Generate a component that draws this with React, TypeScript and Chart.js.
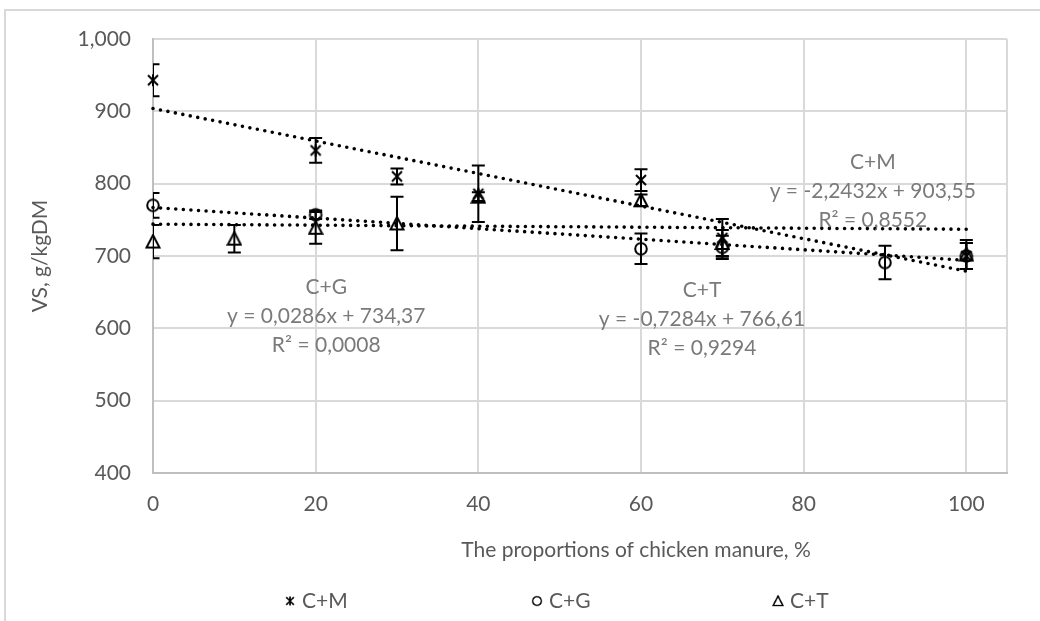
import React, { useEffect, useRef } from 'react';
import { Chart, registerables } from 'chart.js';

Chart.register(...registerables);

// ---- data ----
const seriesNames = ['C+M', 'C+G', 'C+T'];

const xCM = [0, 20, 30, 40, 60, 70, 100];
const yCM = [943, 846, 810, 786, 805, 725, 700];
const eCM = [22, 17, 11, 39, 15, 26, 18];

const xCG = [0, 20, 60, 70, 90, 100];
const yCG = [770, 757, 710, 712, 691, 700];
const eCG = [17, 6, 21, 16, 23, 18];

const xCT = [0, 10, 20, 30, 40, 60, 70, 100];
const yCT = [720, 724, 739, 745, 782, 777, 718, 702];
const eCT = [23, 19, 22, 37, 6, 8, 18, 20];

const trendX = [0, 100];
const trendCM = [904, 679];
const trendCG = [767, 694];
const trendCT = [744, 737];

const xTickValues = [0, 20, 40, 60, 80, 100];
const labelCM = ['C+M', 'y = -2,2432x + 903,55', 'R² = 0,8552'];
const labelCG = ['C+G', 'y = 0,0286x + 734,37', 'R² = 0,0008'];
const labelCT = ['C+T', 'y = -0,7284x + 766,61', 'R² = 0,9294'];

const xTitle = 'The proportions of chicken manure, %';
const yTitle = 'VS, g/kgDM';

// ---- styling / layout ----
const FONT = 'Lato, "Open Sans", sans-serif';
const TEXT = '#595959';
const LABEL = '#7a7a7a';
const GRID = '#d9d9d9';
const AXIS = '#bfbfbf';

function makeMarker(kind: string): HTMLCanvasElement {
  const c = document.createElement('canvas');
  c.width = 16;
  c.height = 16;
  const g = c.getContext('2d')!;
  g.strokeStyle = '#000';
  g.lineWidth = 2;
  g.lineCap = 'butt';
  g.beginPath();
  if (kind === 'star') {
    g.moveTo(3, 3); g.lineTo(13, 13);
    g.moveTo(13, 3); g.lineTo(3, 13);
    g.moveTo(8, 2); g.lineTo(8, 14);
  } else if (kind === 'circle') {
    g.arc(8, 8, 5.8, 0, Math.PI * 2);
  } else {
    g.moveTo(8, 1.5); g.lineTo(14.5, 14); g.lineTo(1.5, 14); g.closePath();
  }
  g.stroke();
  return c;
}

function pts(xs: number[], ys: number[]) {
  return xs.map((x, i) => ({ x, y: ys[i] }));
}

export default function App() {
  const ref = useRef<HTMLCanvasElement | null>(null);

  useEffect(() => {
    document.body.style.margin = '0';
    const canvas = ref.current!;
    const mStar = makeMarker('star');
    const mCircle = makeMarker('circle');
    const mTri = makeMarker('tri');
    const markers = [mStar, mCircle, mTri];

    const errorBars = {
      id: 'errorBars',
      afterDatasetsDraw(chart: any) {
        const { ctx, chartArea, scales } = chart;
        ctx.save();
        ctx.beginPath();
        ctx.rect(chartArea.left, chartArea.top - 40, chartArea.right - chartArea.left, chartArea.bottom - chartArea.top + 40);
        ctx.clip();
        ctx.strokeStyle = '#000';
        ctx.lineWidth = 2;
        chart.data.datasets.forEach((ds: any) => {
          if (!ds.errors) return;
          ds.data.forEach((p: any, i: number) => {
            const e = ds.errors[i];
            const px = scales.x.getPixelForValue(p.x);
            const t = scales.y.getPixelForValue(p.y + e);
            const b = scales.y.getPixelForValue(p.y - e);
            ctx.beginPath();
            ctx.moveTo(px, t); ctx.lineTo(px, b);
            ctx.moveTo(px - 6.5, t); ctx.lineTo(px + 6.5, t);
            ctx.moveTo(px - 6.5, b); ctx.lineTo(px + 6.5, b);
            ctx.stroke();
          });
        });
        ctx.restore();
      },
    };

    const decor = {
      id: 'decor',
      beforeDraw(chart: any) {
        const { ctx } = chart;
        ctx.save();
        ctx.fillStyle = '#fff';
        ctx.fillRect(0, 0, chart.width, chart.height);
        ctx.strokeStyle = GRID;
        ctx.lineWidth = 2;
        ctx.beginPath();
        ctx.moveTo(5, 640);
        ctx.lineTo(5, 10);
        ctx.lineTo(1045, 10);
        ctx.stroke();
        ctx.restore();
      },
      afterDraw(chart: any) {
        const { ctx, scales } = chart;
        ctx.save();
        ctx.font = `21px ${FONT}`;
        ctx.textAlign = 'center';
        ctx.textBaseline = 'middle';
        // trendline labels
        ctx.fillStyle = LABEL;
        const blocks: [string[], number, number][] = [
          [labelCM, 88.5, 829],
          [labelCG, 21.3, 657],
          [labelCT, 67.5, 652],
        ];
        blocks.forEach(([lines, xv, yv]) => {
          const px = scales.x.getPixelForValue(xv);
          const py = scales.y.getPixelForValue(yv);
          lines.forEach((l, i) => ctx.fillText(l, px, py + i * 29));
        });
        // axis titles
        ctx.fillStyle = TEXT;
        ctx.fillText(xTitle, 636, 550);
        ctx.save();
        ctx.translate(40, 256);
        ctx.rotate(-Math.PI / 2);
        ctx.fillText(yTitle, 0, 0);
        ctx.restore();
        // legend
        const lx = [290, 537, 778];
        ctx.textAlign = 'left';
        seriesNames.forEach((n, i) => {
          const m = markers[i];
          ctx.drawImage(m, lx[i] - 6, 601 - 6, 12, 12);
          ctx.fillText(n, lx[i] + 12, 601);
        });
        ctx.restore();
      },
    };

    const trendStyle = {
      type: 'line' as const,
      borderColor: '#000',
      borderWidth: 3.6,
      borderDash: [0, 7.6],
      borderCapStyle: 'round' as const,
      pointRadius: 0,
      fill: false,
      clip: false as any,
    };

    const chart = new Chart(canvas, {
      type: 'scatter',
      data: {
        datasets: [
          { ...trendStyle, label: 'tM', data: pts(trendX, trendCM) },
          { ...trendStyle, label: 'tG', data: pts(trendX, trendCG) },
          { ...trendStyle, label: 'tT', data: pts(trendX, trendCT) },
          {
            label: seriesNames[0], data: pts(xCM, yCM), errors: eCM,
            pointStyle: mStar, pointRadius: 7, clip: false,
          } as any,
          {
            label: seriesNames[1], data: pts(xCG, yCG), errors: eCG,
            pointStyle: mCircle, pointRadius: 7, clip: false,
          } as any,
          {
            label: seriesNames[2], data: pts(xCT, yCT), errors: eCT,
            pointStyle: mTri, pointRadius: 7, clip: false,
          } as any,
        ],
      },
      options: {
        animation: false,
        responsive: false,
        devicePixelRatio: 1,
        layout: { padding: { left: 0, top: 39, right: 33, bottom: 0 } },
        plugins: {
          legend: { display: false },
          tooltip: { enabled: false },
        },
        scales: {
          x: {
            type: 'linear',
            min: 0,
            max: 105,
            afterBuildTicks: (s: any) => {
              s.ticks = [...xTickValues, 105].map((v) => ({ value: v }));
            },
            afterFit: (s: any) => { s.height = 621 - 473; },
            ticks: {
              autoSkip: false,
              maxRotation: 0,
              padding: 19,
              color: TEXT,
              font: { family: FONT, size: 21 },
              callback: (v: any) => (v > 100 ? '' : String(v)),
            },
            grid: { color: GRID, lineWidth: 2, drawTicks: false },
            border: { color: AXIS, width: 2 },
          },
          y: {
            min: 400,
            max: 1000,
            afterFit: (s: any) => { s.width = 153; },
            ticks: {
              stepSize: 100,
              padding: 22,
              color: TEXT,
              font: { family: FONT, size: 21 },
            },
            grid: { color: GRID, lineWidth: 2, drawTicks: false },
            border: { color: AXIS, width: 2 },
          },
        },
      },
      plugins: [decor, errorBars],
    } as any);

    return () => chart.destroy();
  }, []);

  return (
    <div style={{ width: 1040, height: 621 }}>
      <canvas ref={ref} width={1040} height={621} style={{ display: 'block' }} />
    </div>
  );
}
